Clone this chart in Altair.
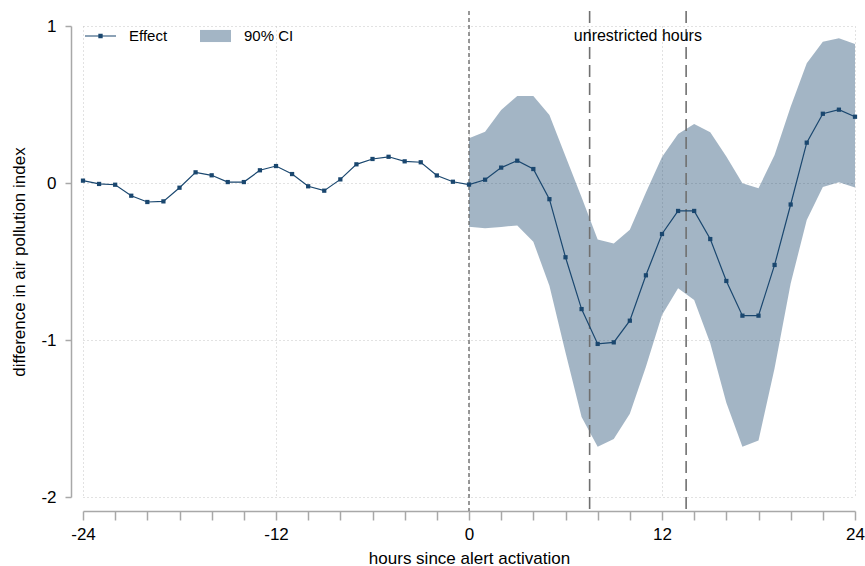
import altair as alt
import pandas as pd

# ---------------- data ----------------
hours = list(range(-24, 25))
effect = [0.015, -0.006, -0.011, -0.081, -0.121, -0.117, -0.030, 0.068, 0.049, 0.006,
          0.006, 0.081, 0.108, 0.057, -0.021, -0.049, 0.023, 0.119, 0.153, 0.167,
          0.138, 0.132, 0.048, 0.008, -0.010, 0.021, 0.098, 0.142, 0.089, -0.103,
          -0.473, -0.803, -1.025, -1.015, -0.877, -0.588, -0.325, -0.178, -0.178, -0.357,
          -0.624, -0.845, -0.845, -0.522, -0.137, 0.257, 0.441, 0.467, 0.422]

ci_hours = list(range(0, 25))
ci_upper = [0.285, 0.327, 0.465, 0.554, 0.554, 0.433, 0.170, -0.090, -0.360, -0.386,
            -0.298, -0.060, 0.165, 0.312, 0.376, 0.323, 0.168, -0.002, -0.034, 0.178,
            0.486, 0.762, 0.900, 0.922, 0.885]
ci_lower = [-0.278, -0.289, -0.280, -0.270, -0.374, -0.655, -1.080, -1.490, -1.680, -1.630,
            -1.470, -1.170, -0.840, -0.670, -0.745, -1.020, -1.400, -1.680, -1.640, -1.180,
            -0.640, -0.236, -0.026, 0.005, -0.028]

xline_short = [0]
xline_long = [7.5, 13.5]
effect_label = ["Effect"]
ci_label = ["90% CI"]
annot_text = ["unrestricted hours"]
annot_x = [10.5]
annot_y = [0.935]
x_ticks = list(range(-24, 25, 2))
y_ticks = [-2, -1, 0, 1]
x_title = "hours since alert activation"
y_title = "difference in air pollution index"

# ---------------- styles ----------------
NAVY = "#1a476f"
AXIS_GREY = "#a8a8a8"
FONT = "Liberation Sans"

eff_df = pd.DataFrame({"hour": hours, "value": effect, "series": effect_label[0]})
ci_df = pd.DataFrame({"hour": ci_hours, "hi": ci_upper, "lo": ci_lower, "band": ci_label[0]})
short_df = pd.DataFrame({"hour": xline_short})
long_df = pd.DataFrame({"hour": xline_long})
annot_df = pd.DataFrame({"hour": annot_x, "value": annot_y, "t": annot_text})

xscale = alt.Scale(domain=[-24, 24], nice=False, zero=False)
yscale = alt.Scale(domain=[-2, 1], nice=False, zero=False)

xaxis = alt.Axis(
    values=x_ticks,
    labelExpr="datum.value % 12 == 0 ? '' + datum.value : ''",
    offset=14, domainColor=AXIS_GREY, domainWidth=1.5,
    tickColor=AXIS_GREY, tickWidth=1.5, tickSize=9,
    labelFont=FONT, labelFontSize=17, labelColor="black", labelPadding=6,
    labelFlush=False, labelOverlap=False,
    titleFont=FONT, titleFontSize=17, titleColor="black", titleFontWeight="normal",
    titlePadding=8,
    grid=True, gridColor="#c4c4c4", gridDash=[1, 3], gridWidth=1,
    gridOpacity={"condition": {"test": "datum.value % 12 != 0", "value": 0}, "value": 1},
)
yaxis = alt.Axis(
    values=y_ticks,
    labelExpr="'' + datum.value",
    offset=12, domainColor=AXIS_GREY, domainWidth=1.5,
    tickColor=AXIS_GREY, tickWidth=1.5, tickSize=6,
    labelFont=FONT, labelFontSize=17, labelColor="black", labelPadding=9,
    labelFlush=False, labelOverlap=False,
    titleFont=FONT, titleFontSize=17, titleColor="black", titleFontWeight="normal",
    titlePadding=12,
    grid=True, gridColor="#c4c4c4", gridDash=[1, 3], gridWidth=1,
)


def X(field="hour"):
    return alt.X(f"{field}:Q", scale=xscale, axis=xaxis, title=x_title)


def Y(field):
    return alt.Y(f"{field}:Q", scale=yscale, axis=yaxis, title=y_title)


path_eff = "M-1,-0.04H1V0.04H-1Z M-0.14,-0.14H0.14V0.14H-0.14Z"
path_ci = "M-1,-0.39H1V0.39H-1Z"

leg_common = dict(
    title=None, orient="none", direction="horizontal", symbolSize=961,
    symbolStrokeWidth=0, labelFont=FONT, labelFontSize=15, labelColor="black",
    labelOffset=13, padding=0, legendY=-5.5,
)

area = alt.Chart(ci_df).mark_area(opacity=0.4).encode(
    x=X(), y=Y("hi"), y2="lo:Q",
    fill=alt.Fill("band:N", scale=alt.Scale(domain=ci_label, range=[NAVY]),
                  legend=alt.Legend(legendX=117, symbolType=path_ci, **leg_common)),
)

rule_short = alt.Chart(short_df).mark_rule(
    color="#6e6e6e", strokeDash=[4, 3], strokeWidth=1.4
).encode(x=X(), y=alt.value(-15), y2=alt.value(485))

rule_long = alt.Chart(long_df).mark_rule(
    color="#707070", strokeDash=[12, 6], strokeWidth=1.6
).encode(x=X(), y=alt.value(-15), y2=alt.value(485))

line = alt.Chart(eff_df).mark_line(color=NAVY, strokeWidth=1.2).encode(
    x=X(), y=Y("value")
)

points = alt.Chart(eff_df).mark_point(
    shape="square", filled=True, size=18, opacity=1
).encode(
    x=X(), y=Y("value"),
    color=alt.Color("series:N", scale=alt.Scale(domain=effect_label, range=[NAVY]),
                    legend=alt.Legend(legendX=2, symbolType=path_eff, **leg_common)),
)

annot = alt.Chart(annot_df).mark_text(font=FONT, fontSize=16, color="black").encode(
    x=X(), y=Y("value"), text="t:N"
)

chart = alt.layer(area, rule_short, rule_long, line, points, annot).properties(
    width=772, height=471,
    padding={"left": 83, "top": 26, "right": 10, "bottom": 69},
    autosize="none", background="white",
).configure_view(stroke=None)

chart.save("out.html", embed_options={"renderer": "svg", "actions": False})
